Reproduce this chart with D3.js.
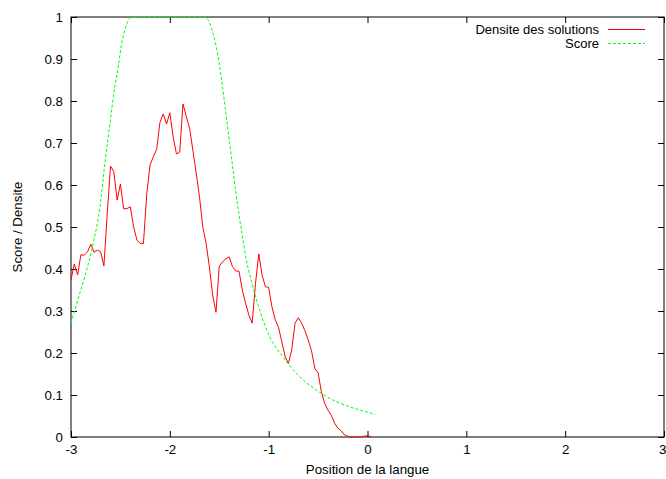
<!DOCTYPE html>
<html><head><meta charset="utf-8">
<script src="https://cdn.jsdelivr.net/npm/d3@7"></script>
<style>body{margin:0;background:#fff}svg{display:block}text{font-family:"Liberation Sans",Arial,sans-serif;font-size:13.3px;fill:#000}</style>
</head><body>
<script>
const xTicks = [-3,-2,-1,0,1,2,3];
const yTicks = [0,0.1,0.2,0.3,0.4,0.5,0.6,0.7,0.8,0.9,1];
const seriesNames = ["Densite des solutions","Score"];
const densX = [-3.000,-2.967,-2.933,-2.900,-2.867,-2.833,-2.800,-2.767,-2.733,-2.700,-2.667,-2.633,-2.600,-2.567,-2.533,-2.500,-2.467,-2.433,-2.400,-2.367,-2.333,-2.300,-2.267,-2.233,-2.200,-2.167,-2.133,-2.100,-2.067,-2.033,-2.000,-1.967,-1.933,-1.900,-1.867,-1.833,-1.800,-1.767,-1.733,-1.700,-1.667,-1.633,-1.600,-1.567,-1.533,-1.500,-1.467,-1.433,-1.400,-1.367,-1.333,-1.300,-1.267,-1.233,-1.200,-1.167,-1.133,-1.100,-1.067,-1.033,-1.000,-0.967,-0.933,-0.900,-0.867,-0.833,-0.800,-0.767,-0.733,-0.700,-0.667,-0.633,-0.600,-0.567,-0.533,-0.500,-0.467,-0.433,-0.400,-0.367,-0.333,-0.300,-0.267,-0.233,-0.200,-0.167,-0.133,-0.100,-0.067,-0.033,0.000,0.033];
const densY = [0.374,0.412,0.386,0.434,0.433,0.441,0.459,0.440,0.445,0.441,0.407,0.533,0.645,0.632,0.564,0.602,0.543,0.544,0.548,0.501,0.469,0.461,0.461,0.580,0.648,0.667,0.685,0.749,0.769,0.745,0.772,0.715,0.674,0.678,0.793,0.763,0.735,0.683,0.628,0.572,0.501,0.461,0.406,0.338,0.297,0.407,0.417,0.424,0.429,0.406,0.395,0.395,0.350,0.318,0.290,0.271,0.366,0.436,0.386,0.358,0.356,0.310,0.279,0.261,0.227,0.191,0.175,0.207,0.271,0.284,0.271,0.253,0.231,0.206,0.163,0.153,0.108,0.080,0.064,0.052,0.033,0.021,0.015,0.005,0.002,0,0,0,0,0.002,0.003,0.001];
const scoreX = [-3.000,-2.942,-2.841,-2.775,-2.707,-2.657,-2.606,-2.556,-2.522,-2.488,-2.455,-2.405,-2.374,-1.646,-1.613,-1.563,-1.512,-1.465,-1.427,-1.377,-1.326,-1.276,-1.225,-1.159,-1.091,-0.990,-0.856,-0.687,-0.518,-0.350,-0.182,-0.013,0.078];
const scoreY = [0.271,0.318,0.398,0.461,0.548,0.652,0.747,0.834,0.882,0.936,0.969,0.997,1.0,1.0,0.993,0.961,0.906,0.830,0.760,0.667,0.572,0.493,0.421,0.358,0.302,0.239,0.191,0.144,0.112,0.088,0.072,0.060,0.054];

const W = 666, H = 479;
const m = {left:71, right:2, top:17, bottom:42};
const svg = d3.select("body").append("svg").attr("width",W).attr("height",H);
const x = d3.scaleLinear().domain([-3,3]).range([m.left, W-m.right]);
const y = d3.scaleLinear().domain([0,1]).range([H-m.bottom, m.top]);

const tk = 6;
const g = svg.append("g");
const xb = g.append("g").attr("transform",`translate(0,${y(0)})`)
  .call(d3.axisBottom(x).tickValues(xTicks).tickSize(-tk).tickPadding(8).tickFormat(d=>String(d)))
  .call(a=>a.select(".domain").remove());
xb.selectAll(".tick text").filter(d=>d===3).attr("text-anchor","end").attr("x",2);
g.append("g").attr("transform",`translate(0,${y(1)})`)
  .call(d3.axisTop(x).tickValues(xTicks).tickSize(-tk).tickFormat(""))
  .call(a=>a.select(".domain").remove());
g.append("g").attr("transform",`translate(${x(-3)},0)`)
  .call(d3.axisLeft(y).tickValues(yTicks).tickSize(-tk).tickPadding(8).tickFormat(d=>String(+d.toFixed(1))))
  .call(a=>a.select(".domain").remove());
g.append("g").attr("transform",`translate(${x(3)},0)`)
  .call(d3.axisRight(y).tickValues(yTicks).tickSize(-tk).tickFormat(""))
  .call(a=>a.select(".domain").remove());
g.selectAll(".tick line").attr("stroke","#000");
g.selectAll(".tick text").style("font-family",'"Liberation Sans",Arial,sans-serif').style("font-size","13.3px").attr("fill","#000");

svg.append("rect").attr("x",x(-3)).attr("y",y(1)).attr("width",x(3)-x(-3)).attr("height",y(0)-y(1))
  .attr("fill","none").attr("stroke","#000").attr("stroke-width",1);

const dens = densX.map((v,i)=>[v,densY[i]]);
const score = scoreX.map((v,i)=>[v,scoreY[i]]);
const line = d3.line().x(d=>x(d[0])).y(d=>y(d[1]));
const sline = d3.line().x(d=>x(d[0])).y(d=>y(d[1])).curve(d3.curveMonotoneX);
svg.append("path").attr("d",line(dens)).attr("fill","none").attr("stroke","#ff0000").attr("stroke-width",1);
svg.append("path").attr("d",sline(score)).attr("fill","none").attr("stroke","#00ff00").attr("stroke-width",1).attr("stroke-dasharray","3,2");

const lg = svg.append("g");
const colors = ["#ff0000","#00ff00"];
seriesNames.forEach((n,i)=>{
  const yy = 29.5 + i*14;
  lg.append("text").attr("x",599).attr("y",yy).attr("dy","0.35em").attr("text-anchor","end").style("font-size","13px").text(n);
  lg.append("line").attr("x1",608).attr("x2",645).attr("y1",yy).attr("y2",yy)
    .attr("stroke",colors[i]).attr("stroke-width",1).attr("stroke-dasharray",i?"3,2":null);
});

svg.append("text").attr("x",x(0)).attr("y",474).attr("text-anchor","middle").text("Position de la langue");
svg.append("text").attr("transform",`translate(22,${(y(0)+y(1))/2}) rotate(-90)`).attr("text-anchor","middle").text("Score / Densite");
</script>
</body></html>
